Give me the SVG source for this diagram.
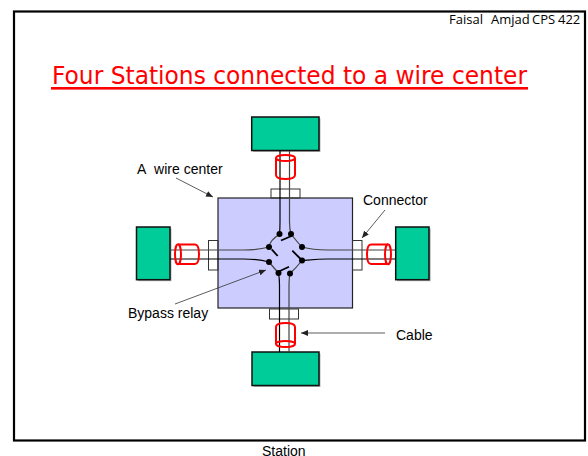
<svg xmlns="http://www.w3.org/2000/svg" width="588" height="456" viewBox="0 0 588 456">
<style>
.st{fill:#00cc99;stroke:#111;stroke-width:1.5}
.sh{fill:#b5b5b5}
.cn{fill:none;stroke:#333;stroke-width:1}
.w{fill:none;stroke:#000;stroke-width:1.2}
.w2{fill:none;stroke:#444;stroke-width:1.2}
.cy{fill:none;stroke:#f00;stroke-width:2}
.d{fill:#000}
.b{stroke:#000;stroke-width:1.8}
.a{fill:none;stroke:#333;stroke-width:.8;marker-end:url(#ah)}
.l{font-family:"Liberation Sans",Arial,sans-serif;font-size:14px;fill:#000}
.c{font-family:"Open Sans","DejaVu Sans",sans-serif;fill:#000}
</style>
<defs><marker id="ah" markerUnits="userSpaceOnUse" markerWidth="8" markerHeight="7" refX="7" refY="3" orient="auto"><path d="M0 0L7 3L0 6Z" fill="#222"/></marker></defs>
<rect width="588" height="456" fill="#fff"/>
<rect id="frame" x="14" y="11.500" width="571" height="429" fill="none" stroke="#000" stroke-width="2.200"/>
<text id="credit" class="c" y="24" font-size="13"><tspan x="449">Faisal</tspan><tspan x="491">Amjad</tspan><tspan x="532">CPS</tspan><tspan x="558">422</tspan></text>
<g id="title"><text x="52" y="84" font-family="'DejaVu Sans',sans-serif" font-size="24" fill="#f00" textLength="475" lengthAdjust="spacingAndGlyphs">Four Stations connected to a wire center</text><rect x="51" y="87" width="477" height="2.600" fill="#f00"/></g>
<g id="wire-center"><rect x="218" y="198" width="134.500" height="110" fill="#ccccff" stroke="#222" stroke-width="1.200"/></g>
<g id="connector-top"><rect class="cn" x="271" y="189" width="29" height="9"/></g>
<g id="connector-bottom"><rect class="cn" x="269.500" y="309" width="29" height="10"/></g>
<g id="connector-left"><rect class="cn" x="208.500" y="240.500" width="9.500" height="29.500"/></g>
<g id="connector-right"><rect class="cn" x="352.500" y="240.500" width="9.500" height="29.500"/></g>
<g id="station-top"><rect class="sh" x="253" y="118.500" width="67.500" height="33.500"/><rect class="st" x="251.700" y="117" width="67.300" height="33.500"/></g>
<g id="station-bottom"><rect class="sh" x="253.500" y="353.500" width="67" height="33.500"/><rect class="st" x="252" y="352" width="67" height="33.500"/></g>
<g id="station-left"><rect class="sh" x="138" y="228.500" width="33.500" height="52.700"/><rect class="st" x="136.500" y="227" width="33.500" height="52.700"/></g>
<g id="station-right"><rect class="sh" x="397.200" y="228.500" width="33.500" height="52.700"/><rect class="st" x="395.700" y="227" width="33.300" height="52.700"/></g>
<g id="connectors">
<path class="w" d="M280 151V222Q280 229 279.500 234"/>
<path class="w2" d="M289.500 151V222Q289.500 229 291 234"/>
<path class="w2" d="M170 250H243C255 250 262 249 269 247"/>
<path class="w" d="M170 259H243C255 259 262 260 269 262"/>
<path class="w2" d="M395 250H328C316 250 309 249 302 247"/>
<path class="w" d="M395 259H328C316 259 309 260 302 260.500"/>
<path class="w" d="M279.500 352V285Q279.500 278 278.500 273"/>
<path class="w2" d="M289 352V285Q289 278 290 273.500"/>
<path class="w2" d="M280 234Q270 240 269 247"/><path class="w2" d="M291 234Q298 243 302 247"/>
<path class="w2" d="M269 262Q274 268 278.500 273"/><path class="w2" d="M302 260.500Q296 268 290 273.500"/>
<line class="b" x1="281" y1="240.500" x2="291.500" y2="236"/>
<line class="b" x1="271.700" y1="249.300" x2="277.700" y2="256"/>
<line class="b" x1="292.300" y1="250.700" x2="301.700" y2="260"/>
<line class="b" x1="278.300" y1="271.700" x2="289" y2="266.700"/>
<circle class="d" cx="279.500" cy="234" r="3"/><circle class="d" cx="291" cy="234" r="3"/>
<circle class="d" cx="269" cy="247" r="3"/><circle class="d" cx="269" cy="262" r="3"/>
<circle class="d" cx="302" cy="247" r="3"/><circle class="d" cx="302" cy="260.500" r="3"/>
<circle class="d" cx="278.500" cy="273" r="3"/><circle class="d" cx="290" cy="273.500" r="3"/>
<path class="a" d="M176 178L213 197"/>
<path class="a" d="M385 210L362 238"/>
<path class="a" d="M175 304L266 270"/>
<path class="a" d="M385 333H301"/>
</g>
<g id="cable-top"><path class="cy" d="M276 158V175Q276 179 285.500 179Q295 179 295 175V158"/><ellipse class="cy" cx="285.500" cy="158" rx="9.500" ry="3"/></g>
<g id="cable-bottom"><path class="cy" d="M276 344V327Q276 323 285.500 323Q295 323 295 327V344"/><ellipse class="cy" cx="285.500" cy="344" rx="9.500" ry="3"/></g>
<g id="cable-left"><path class="cy" d="M178 244.500H195Q199 244.500 199 254Q199 264 195 264H178"/><ellipse class="cy" cx="178" cy="254.300" rx="3" ry="10"/></g>
<g id="cable-right"><path class="cy" d="M388 244.500H371Q367 244.500 367 254Q367 264 371 264H388"/><ellipse class="cy" cx="388" cy="254.300" rx="3" ry="10"/></g>
<text class="l" x="137" y="174">A&#160; wire center</text>
<text class="l" x="363" y="205">Connector</text>
<text class="l" x="128" y="318">Bypass relay</text>
<text class="l" x="396" y="340">Cable</text>
<text class="l" x="262" y="456">Station</text>
</svg>
